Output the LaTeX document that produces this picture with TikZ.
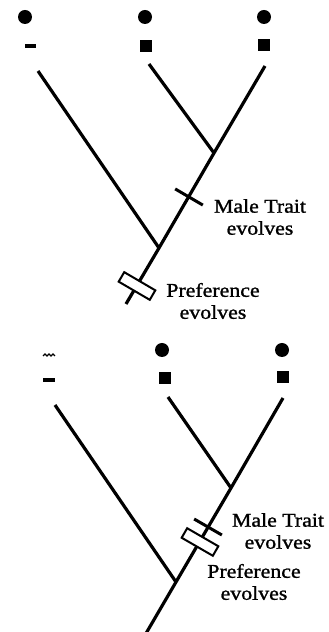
\documentclass[tikz,border=0pt]{standalone}
\usepackage{fontspec}
\setmainfont{Liberation Serif}[FakeStretch=1.12,FakeBold=1.2]
\begin{document}
\begin{tikzpicture}[x=1pt,y=1pt,
  branch/.style={line width=3.2pt},
  dot/.style={circle,fill=black,inner sep=0pt,minimum size=14pt},
  sq/.style={rectangle,fill=black,inner sep=0pt,minimum size=12pt},
  dashmark/.style={rectangle,fill=black,inner sep=0pt,minimum width=11pt,minimum height=4pt},
  tickmark/.style={rectangle,fill=black,inner sep=0pt,minimum width=32pt,minimum height=3pt},
  prefbox/.style={rectangle,draw=black,fill=white,line width=2pt,inner sep=0pt,minimum width=36pt,minimum height=11pt},
  lbl/.style={align=center,font=\fontsize{19.5}{22}\selectfont,inner sep=0pt}]
\useasboundingbox (0,0) rectangle (329,632);
\fill[white] (0,0) rectangle (329,632);
% ---------- top tree ----------
\node[dot] (c1) at (25,615) {};
\node[dot] (c2) at (145,615) {};
\node[dot] (c3) at (264,615) {};
\node[dashmark] (d1) at (30,586) {};
\node[sq] (s2) at (146,586) {};
\node[sq] (s3) at (264,587) {};
\coordinate (l1) at (38,561);
\coordinate (m1) at (149,568);
\coordinate (r1) at (265,566);
\coordinate (ja1) at (214,479);
\coordinate (jb1) at (159,384);
\coordinate (b1) at (126,328);
\draw[branch] (l1) -- (jb1);
\draw[branch] (m1) -- (ja1);
\draw[branch] (r1) -- (ja1) -- (jb1) -- (b1);
\node[tickmark,rotate=-30.3] (t1) at (189,435) {};
\node[prefbox,rotate=-30.3] (p1) at (137,346) {};
\node[lbl] (mt1) at (260,415) {Male Trait\\evolves};
\node[lbl] (pt1) at (213,331) {Preference\\evolves};
% ---------- bottom tree ----------
\draw[line width=1.4pt] (43,276) -- (45,278) -- (47,276) -- (49,278) -- (51,276) -- (53,278) -- (55,276);
\coordinate (w2) at (49,277);
\node[dashmark,minimum width=12pt] (d4) at (49,252) {};
\node[dot] (c4) at (162,282) {};
\node[dot] (c5) at (282,282) {};
\node[sq] (s4) at (165,254) {};
\node[sq] (s5) at (283,255) {};
\coordinate (l2) at (55,227);
\coordinate (m2) at (168,235);
\coordinate (r2) at (283,234);
\coordinate (ja2) at (231,144);
\coordinate (jb2) at (176,50);
\coordinate (b2) at (144.5,-4);
\begin{scope}
\clip (0,0) rectangle (329,632);
\draw[branch] (l2) -- (jb2);
\draw[branch] (m2) -- (ja2);
\draw[branch] (r2) -- (ja2) -- (jb2) -- (b2);
\end{scope}
\node[tickmark,rotate=-30] (t2) at (208,105) {};
\node[prefbox,rotate=-30] (p2) at (200,90) {};
\node[lbl] (mt2) at (278,101) {Male Trait\\evolves};
\node[lbl] (pt2) at (254,50) {Preference\\evolves};
\end{tikzpicture}
\end{document}
